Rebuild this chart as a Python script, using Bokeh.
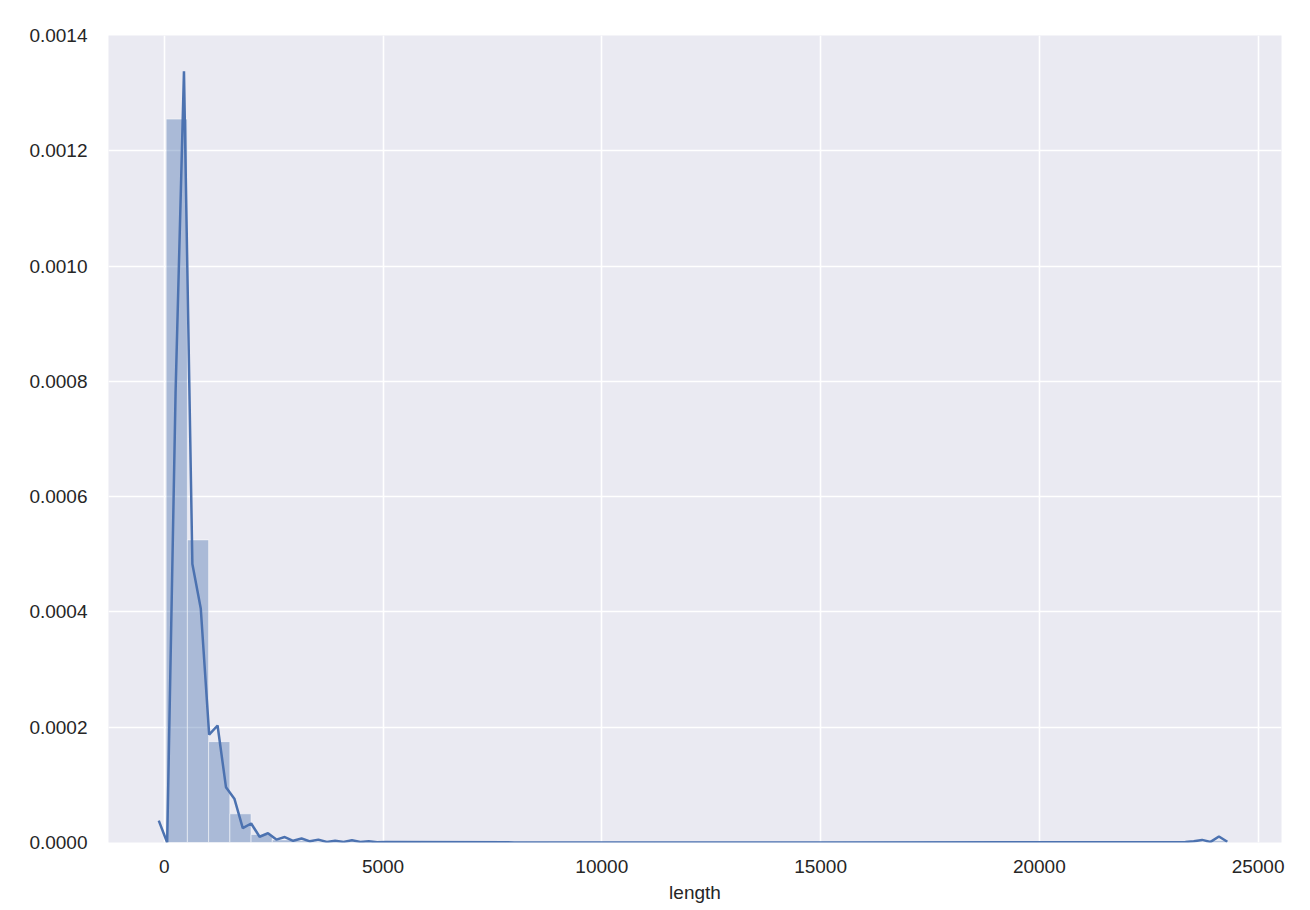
import numpy as np
from bokeh.plotting import figure
from bokeh.models import FixedTicker, PrintfTickFormatter, Range1d, ColumnDataSource
from bokeh.embed import file_html
from bokeh.resources import INLINE

# ---- data ----
data_min = 43.0
data_max = 24298.0
n_bins = 50
hist_density = [
    0.001255, 0.000525, 0.000175, 0.0000498, 0.0000139,
    0.0000045, 0.0000030, 0.0000022, 0.0000016, 0.0000012,
    0.0000010, 0.0000008, 0.0000006, 0.0000005, 0.0000004,
    0.0000004, 0.0000003, 0.0000003, 0.0000002, 0.0000002,
    0.0000002, 0.0000002, 0.0000001, 0.0000001, 0.0000001,
    0.0000001, 0.0000001, 0.0000001, 0.0000001, 0.0000001,
    0.0, 0.0, 0.0, 0.0, 0.0,
    0.0, 0.0, 0.0, 0.0, 0.0,
    0.0, 0.0, 0.0, 0.0, 0.0,
    0.0, 0.0, 0.0, 0.0000002, 0.0000030,
]

kde_x = [-126, 66, 258, 450, 642, 834, 1026, 1218, 1410, 1602,
         1794, 1986, 2178, 2370, 2562, 2754, 2946, 3138, 3330, 3522,
         3714, 3906, 4098, 4290, 4482, 4674, 4866, 5058,
         8000, 15000, 23338, 23530, 23722, 23914, 24106, 24298]
kde_y = [0.000038, 0.0, 0.00078, 0.001338, 0.000483, 0.000406, 0.000187, 0.000203, 0.000096, 0.000076,
         0.000025, 0.000033, 0.000010, 0.000016, 0.000005, 0.0000095, 0.000003, 0.000007, 0.000002, 0.000005,
         0.000001, 0.000003, 0.000001, 0.000004, 0.000001, 0.000002, 0.0000005, 0.000001,
         0.0000002, 0.0000001, 0.000001, 0.000002, 0.0000045, 0.000001, 0.0000104, 0.0000012]

x_ticks = [0, 5000, 10000, 15000, 20000, 25000]
y_ticks = [0.0, 0.0002, 0.0004, 0.0006, 0.0008, 0.0010, 0.0012, 0.0014]
x_label = "length"

# ---- build ----
edges = np.linspace(data_min, data_max, n_bins + 1)
hist_src = ColumnDataSource(dict(left=edges[:-1], right=edges[1:], top=hist_density,
                                 bottom=[0.0] * n_bins))

BLUE = "#4C72B0"
BG = "#EAEAF2"
TXT = "#262626"
FONT = "Liberation Sans"

p = figure(frame_width=1173, frame_height=807, output_backend="svg", toolbar_location=None,
           x_range=Range1d(-1275, 25536), y_range=Range1d(0, 0.0014),
           min_border_left=108, min_border_top=35, min_border_right=10, min_border_bottom=5)
p.background_fill_color = BG
p.border_fill_color = "white"
p.outline_line_color = None

p.quad(left="left", right="right", top="top", bottom="bottom", source=hist_src,
       fill_color=BLUE, fill_alpha=0.4, line_color="white", line_alpha=0.5, line_width=1)
p.line(kde_x, kde_y, line_color=BLUE, line_width=2.5)

for ax in (p.xaxis, p.yaxis):
    ax.axis_line_color = None
    ax.major_tick_line_color = None
    ax.minor_tick_line_color = None
    ax.major_tick_in = 0
    ax.major_tick_out = 0
    ax.major_label_text_font = FONT
    ax.major_label_text_font_size = "19px"
    ax.major_label_text_color = TXT

p.xaxis.ticker = FixedTicker(ticks=x_ticks)
p.yaxis.ticker = FixedTicker(ticks=y_ticks)
p.yaxis.formatter = PrintfTickFormatter(format="%.4f")
p.xaxis.major_label_standoff = 17
p.yaxis.major_label_standoff = 21
p.xaxis.axis_label = x_label
p.xaxis.axis_label_text_font = FONT
p.xaxis.axis_label_text_font_size = "19px"
p.xaxis.axis_label_text_font_style = "normal"
p.xaxis.axis_label_text_color = TXT
p.xaxis.axis_label_standoff = 6

p.xgrid.ticker = FixedTicker(ticks=x_ticks)
p.ygrid.ticker = FixedTicker(ticks=y_ticks)
for g in (p.xgrid, p.ygrid):
    g.grid_line_color = "white"
    g.grid_line_width = 1.6

open("out.html", "w").write(file_html(p, INLINE))
